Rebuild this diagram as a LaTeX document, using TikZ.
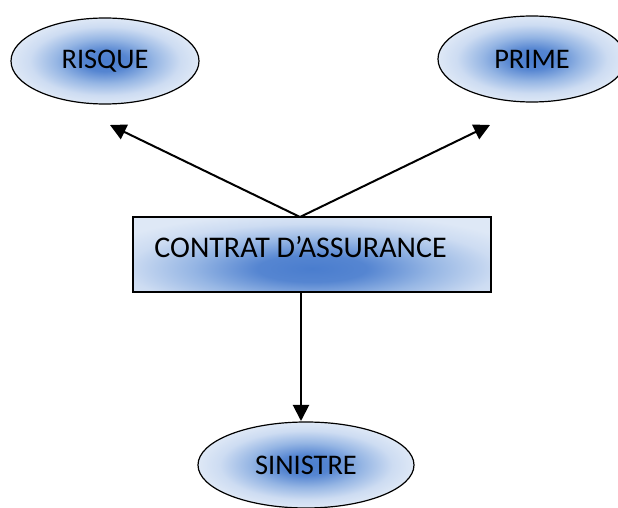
\documentclass[tikz,border=0pt]{standalone}
\usepackage{fontspec}
\setmainfont{Carlito}
\usetikzlibrary{shapes.geometric,arrows.meta}
\definecolor{cblue}{RGB}{74,125,206}
\definecolor{cmid}{RGB}{150,182,228}
\definecolor{clight}{RGB}{205,220,242}
\definecolor{cpale}{RGB}{222,232,246}
\pgfdeclareradialshading{wordblue}{\pgfpoint{0bp}{0bp}}{color(0bp)=(cblue); color(6bp)=(cblue!85!cmid); color(13bp)=(cmid); color(20bp)=(clight); color(25bp)=(cpale); color(50bp)=(cpale)}
\tikzset{
  bubble/.style={ellipse, draw=black, line width=0.6pt, shading=wordblue, inner sep=0pt,
    minimum width=94pt, minimum height=43pt, font=\fontsize{14.2}{16}\selectfont},
  mainbox/.style={draw=black, line width=0.6pt, fill=cpale, inner sep=0pt,
    minimum width=179pt, minimum height=37.5pt},
  link/.style={line width=1pt, -{Triangle[length=8pt,width=8pt]}}
}
\begin{document}
\begin{tikzpicture}[x=0.5pt,y=-0.5pt]
\useasboundingbox (0,0) rectangle (618,508);
\clip (0,0) rectangle (618,508);
\node[bubble] (risque) at (105,61) {RISQUE};
\node[bubble] (prime) at (532,59) {PRIME};
\node[bubble, minimum width=108pt] (sinistre) at (306,465) {SINISTRE};
\node[mainbox, path picture={
   \shade[shading=wordblue] ([yshift=-7pt]path picture bounding box.center) ellipse (115pt and 28pt);
 }] (contrat) at (312,254.5) {};
\node[anchor=west, inner sep=0pt, font=\fontsize{15}{17}\selectfont] (label) at (154,247) {CONTRAT D’ASSURANCE};
\coordinate (top) at (300,217);
\coordinate (bot) at (301,292);
\coordinate (tipr) at (110,125);
\coordinate (tipp) at (490,125);
\coordinate (tips) at (301,421);
\draw[link] (top) -- (tipr);
\draw[link] (top) -- (tipp);
\draw[link] (bot) -- (tips);
\end{tikzpicture}
\end{document}
